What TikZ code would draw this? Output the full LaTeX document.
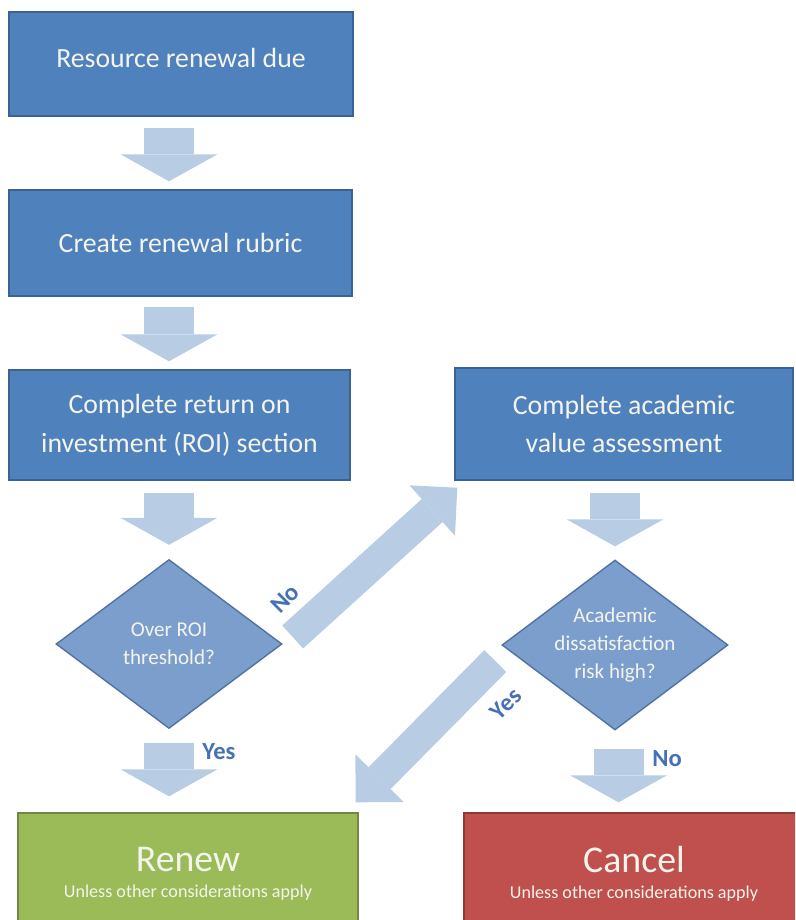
\documentclass[tikz,border=0pt]{standalone}
\usepackage{fontspec}
\setmainfont{Carlito}
\usetikzlibrary{shapes.geometric, arrows.meta, positioning}
\definecolor{boxblue}{RGB}{79,129,189}
\definecolor{boxedge}{RGB}{60,98,145}
\definecolor{qblue}{RGB}{124,158,205}
\definecolor{qedge}{RGB}{82,114,162}
\definecolor{flowblue}{RGB}{184,204,228}
\definecolor{answerblue}{RGB}{70,113,178}
\definecolor{renewgreen}{RGB}{155,187,89}
\definecolor{renewedge}{RGB}{113,137,63}
\definecolor{cancelred}{RGB}{192,80,77}
\definecolor{canceledge}{RGB}{140,56,54}
\definecolor{paletext}{RGB}{244,244,236}

\begin{document}
\begin{tikzpicture}[
    x=0.02cm, y=-0.02cm,
    procbox/.style={rectangle, draw=boxedge, line width=0.8pt, fill=boxblue, text=paletext, align=center, inner sep=0pt, font=\fontsize{15.8}{22}\selectfont},
    decision/.style={diamond, draw=qedge, line width=0.8pt, fill=qblue, text=paletext, align=center, inner sep=-8pt, minimum width=4.52cm, minimum height=3.38cm, font=\fontsize{12}{16}\selectfont},
    outcome/.style={rectangle, line width=0.8pt, text=paletext, align=center, inner sep=0pt, minimum width=6.8cm, minimum height=2.44cm},
    flow/.style={draw=flowblue, line width=1cm, -{Triangle[length=0.54cm, width=1.94cm, line width=0pt]}},
    sideflow/.style={draw=flowblue, line width=0.62cm, -{Triangle[length=0.68cm, width=1.36cm, line width=0pt]}},
    answer/.style={text=answerblue, inner sep=0pt, font=\fontsize{14}{14}\selectfont\bfseries},
]
    \useasboundingbox (0,0) rectangle (795,920);
    \clip (0,0) rectangle (795,920);

    % left column
    \node[procbox, minimum width=6.88cm, minimum height=2.08cm, text depth=0.24cm] (due) at (181,64) {Resource renewal due};
    \node[procbox, minimum width=6.86cm, minimum height=2.12cm] (rubric) at (180.5,243) {Create renewal rubric};
    \node[procbox, minimum width=6.82cm, minimum height=2.2cm] (roi) at (179.5,425) {Complete return on\\investment (ROI) section};
    \node[decision] (roiq) at (169,644) {Over ROI\\threshold?};

    % right column
    \node[procbox, minimum width=6.76cm, minimum height=2.24cm] (acad) at (624,424) {Complete academic\\value assessment};
    \node[decision, minimum height=3.4cm] (riskq) at (615,645) {Academic\\dissatisfaction\\risk high?};

    % outcomes
    \node[outcome, draw=renewedge, fill=renewgreen] (renew) at (188,874)
        {{\fontsize{21.5}{24}\selectfont Renew}\\[3pt]{\fontsize{10.3}{11}\selectfont Unless other considerations apply}};
    \node[outcome, draw=canceledge, fill=cancelred] (cancel) at (634,874)
        {{\fontsize{21.5}{24}\selectfont Cancel}\\[3pt]{\fontsize{10.3}{11}\selectfont Unless other considerations apply}};

    % block arrows
    \draw[flow, shorten <=0.22cm, shorten >=0.16cm] (due.south -| roiq) -- (rubric.north -| roiq);
    \draw[flow, shorten <=0.2cm, shorten >=0.16cm] (rubric.south -| roiq) -- (roi.north -| roiq);
    \draw[flow, shorten <=0.24cm, shorten >=0.28cm] (roi.south -| roiq) -- (roiq.north);
    \draw[flow, shorten <=0.24cm, shorten >=0.26cm] (acad.south -| riskq) -- (riskq.north);
    \draw[flow, shorten <=0.28cm, shorten >=0.32cm] (roiq.south) -- (renew.north -| roiq);
    \draw[flow, shorten <=0.36cm, shorten >=0.2cm] ([xshift=2]riskq.south) -- ([xshift=2]cancel.north -| riskq);
    \draw[sideflow] ([shift={(10,-7)}]roiq.east) -- ([shift={(3,7)}]acad.south west);
    \draw[sideflow] ([shift={(-6,16)}]riskq.west) -- ([shift={(-3,-10)}]renew.north east);

    % answers
    \node[answer, rotate=45] (no1) at (285,599) {No};
    \node[answer, rotate=45] (yes2) at (506,704) {Yes};
    \node[answer] (yes1) at (219,752) {Yes};
    \node[answer] (no2) at (667,759) {No};
\end{tikzpicture}
\end{document}
